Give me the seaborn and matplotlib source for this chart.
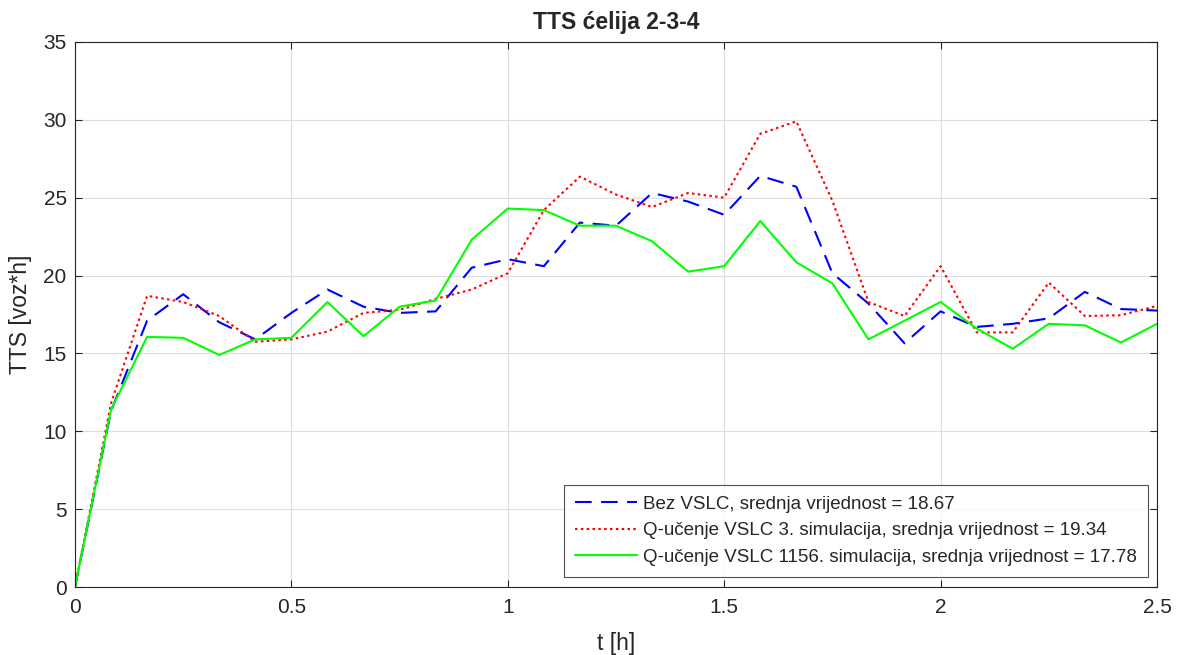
"""TTS for cells 2-3-4: no VSLC vs. Q-learning VSLC (3rd and 1156th simulation)."""
import numpy as np
import pandas as pd
import seaborn as sns
import matplotlib.pyplot as plt

# time grid, 5 min steps over 2.5 h
t = np.linspace(0, 2.5, 31)

bez_vslc = [0, 11.3, 17.1, 18.8, 17.0, 15.9, 17.6, 19.1, 18.0, 17.6, 17.7,
            20.5, 21.05, 20.6, 23.4, 23.2, 25.3, 24.75, 23.9, 26.4, 25.7,
            20.15, 18.2, 15.65, 17.7, 16.7, 16.9, 17.25, 18.95, 17.85, 17.75]
q_sim3 = [0, 11.8, 18.7, 18.3, 17.4, 15.75, 15.9, 16.4, 17.6, 17.8, 18.5,
          19.1, 20.15, 24.2, 26.35, 25.2, 24.4, 25.3, 25.0, 29.1, 29.9,
          24.8, 18.3, 17.4, 20.6, 16.35, 16.35, 19.55, 17.4, 17.45, 18.05]
q_sim1156 = [0, 11.4, 16.06, 16.0, 14.9, 15.9, 16.0, 18.3, 16.1, 18.0, 18.4,
             22.3, 24.3, 24.2, 23.2, 23.2, 22.2, 20.25, 20.6, 23.5, 20.85,
             19.5, 15.9, 17.1, 18.3, 16.6, 15.3, 16.9, 16.8, 15.7, 16.9]

labels = ["Bez VSLC, srednja vrijednost = 18.67",
          "Q-učenje VSLC 3. simulacija, srednja vrijednost = 19.34",
          "Q-učenje VSLC 1156. simulacija, srednja vrijednost = 17.78"]

df = pd.concat([
    pd.DataFrame({"t": t, "TTS": vals, "serija": lab})
    for vals, lab in zip([bez_vslc, q_sim3, q_sim1156], labels)
])

sns.set_style("white")
plt.rcParams["font.family"] = ["Liberation Sans", "DejaVu Sans"]

fig = plt.figure(figsize=(11.77, 6.55), dpi=100)
ax = fig.add_axes([0.0637, 0.1038, 0.9193, 0.8322])

sns.lineplot(data=df, x="t", y="TTS", hue="serija", style="serija",
             palette=["#0000ff", "#ff0000", "#00ff00"],
             dashes=[(8, 4.5), (1.2, 1.6), ""], linewidth=1.5, ax=ax)

ax.set_xlim(0, 2.5)
ax.set_ylim(0, 35)
ax.set_xticks([0, 0.5, 1, 1.5, 2, 2.5])
ax.set_xticklabels(["0", "0.5", "1", "1.5", "2", "2.5"])
ax.set_yticks(range(0, 36, 5))
ax.grid(True, color="#dedede", linewidth=0.8)
ax.tick_params(direction="in", length=5, labelsize=15, colors="#262626",
               top=True, right=True, bottom=True, left=True)
ax.tick_params(axis="x", pad=8)
ax.tick_params(axis="y", pad=6)
for s in ax.spines.values():
    s.set_color("#262626")
    s.set_linewidth(0.8)

ax.set_title("TTS ćelija 2-3-4", fontsize=16.5, fontweight="bold", pad=9)
ax.set_xlabel("t [h]", fontsize=16.5, color="#262626")
ax.set_ylabel("TTS [voz*h]", fontsize=16.5, color="#262626")
ax.xaxis.set_label_coords(0.5, -0.083)
ax.yaxis.set_label_coords(-0.040, 0.5)

leg = ax.legend(loc="lower right", fontsize=13.5, frameon=True, fancybox=False,
                edgecolor="#262626", handlelength=3.3, handletextpad=0.3,
                borderpad=0.6, labelspacing=0.5, borderaxespad=0,
                bbox_to_anchor=(0.9917, 0.018))
leg.get_frame().set_linewidth(0.8)

plt.savefig("out.png")
